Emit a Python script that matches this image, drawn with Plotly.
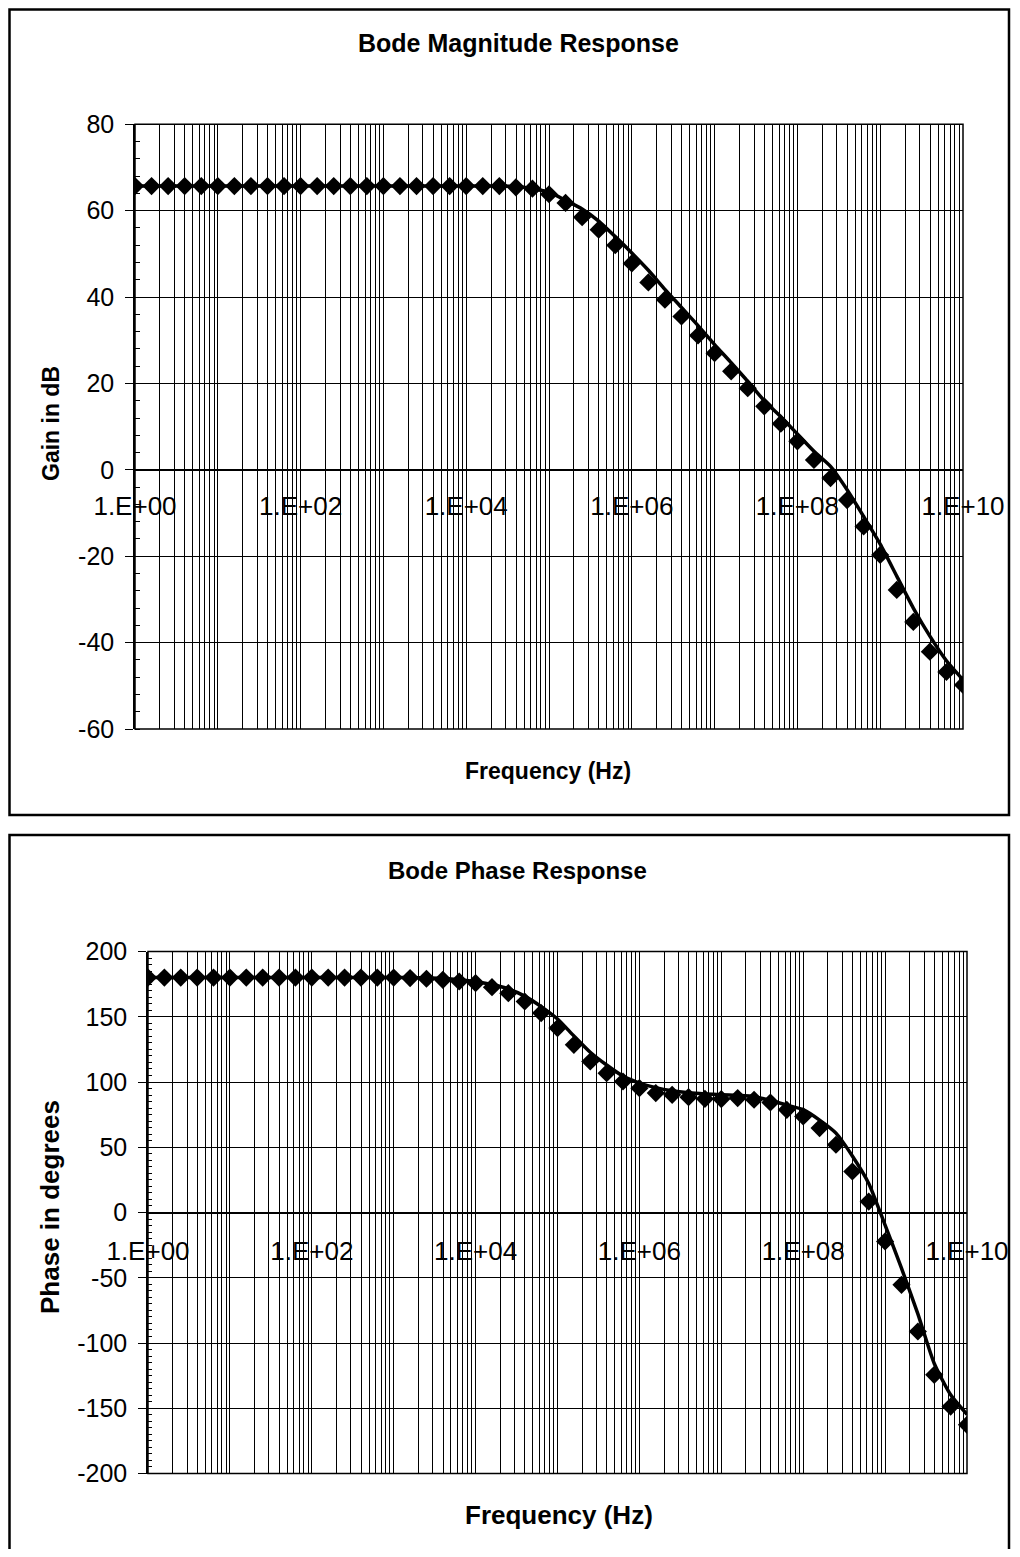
import plotly.graph_objects as go

# ---------------- data ----------------
freq_hz = [
    1.000e0, 1.585e0, 2.512e0, 3.981e0, 6.310e0,
    1.000e1, 1.585e1, 2.512e1, 3.981e1, 6.310e1,
    1.000e2, 1.585e2, 2.512e2, 3.981e2, 6.310e2,
    1.000e3, 1.585e3, 2.512e3, 3.981e3, 6.310e3,
    1.000e4, 1.585e4, 2.512e4, 3.981e4, 6.310e4,
    1.000e5, 1.585e5, 2.512e5, 3.981e5, 6.310e5,
    1.000e6, 1.585e6, 2.512e6, 3.981e6, 6.310e6,
    1.000e7, 1.585e7, 2.512e7, 3.981e7, 6.310e7,
    1.000e8, 1.585e8, 2.512e8, 3.981e8, 6.310e8,
    1.000e9, 1.585e9, 2.512e9, 3.981e9, 6.310e9,
    1.000e10,
]

gain_points_db = [
    65.7, 65.7, 65.7, 65.7, 65.7,
    65.7, 65.7, 65.7, 65.7, 65.7,
    65.7, 65.7, 65.7, 65.7, 65.7,
    65.7, 65.7, 65.7, 65.7, 65.7,
    65.7, 65.7, 65.7, 65.4, 65.1,
    63.8, 61.8, 58.5, 55.6, 52.0,
    47.8, 43.4, 39.4, 35.5, 31.1,
    27.0, 22.8, 18.9, 14.7, 10.7,
    6.6, 2.3, -1.9, -7.0, -13.1,
    -19.7, -27.8, -35.2, -42.1, -46.8,
    -49.8,
]

gain_curve_db = [
    65.7, 65.7, 65.7, 65.7, 65.7,
    65.7, 65.7, 65.7, 65.7, 65.7,
    65.7, 65.7, 65.7, 65.7, 65.7,
    65.7, 65.7, 65.7, 65.7, 65.7,
    65.7, 65.7, 65.7, 65.6, 65.1,
    64.3, 62.4, 60.4, 57.6, 54.0,
    50.2, 46.2, 41.8, 37.6, 33.4,
    29.0, 24.8, 20.5, 16.0, 12.3,
    8.3, 4.3, 0.8, -4.6, -10.8,
    -17.2, -24.6, -32.0, -38.5, -44.2,
    -48.6,
]

phase_points_deg = [
    180.0, 180.0, 180.0, 180.0, 180.0,
    180.0, 180.0, 180.0, 180.0, 180.0,
    180.0, 180.0, 180.0, 180.0, 180.0,
    180.0, 179.6, 179.1, 178.3, 177.0,
    175.8, 172.7, 168.1, 161.7, 152.8,
    141.3, 128.5, 115.7, 106.8, 100.4,
    95.3, 91.5, 90.2, 88.4, 87.1,
    86.9, 87.7, 86.4, 84.3, 78.7,
    73.6, 64.7, 51.9, 31.4, 8.4,
    -22.2, -55.4, -91.2, -124.4, -148.7,
    -162.7,
]

phase_curve_deg = [
    180.0, 180.0, 180.0, 180.0, 180.0,
    180.0, 180.0, 180.0, 180.0, 180.0,
    180.0, 180.0, 180.0, 180.0, 180.0,
    180.0, 180.0, 179.8, 179.5, 178.3,
    176.8, 174.7, 171.3, 165.8, 157.8,
    148.3, 135.3, 122.8, 113.0, 104.5,
    99.2, 95.7, 93.3, 91.8, 90.9,
    90.3, 89.7, 88.8, 85.8, 82.3,
    78.8, 70.8, 60.8, 43.3, 22.3,
    -9.7, -42.7, -77.7, -115.7, -139.7,
    -154.7,
]

x_tick_vals = [1e0, 1e2, 1e4, 1e6, 1e8, 1e10]
x_tick_text = ["1.E+00", "1.E+02", "1.E+04", "1.E+06", "1.E+08", "1.E+10"]
gain_ticks = [-60, -40, -20, 0, 20, 40, 60, 80]
gain_tick_text = ["-60", "-40", "-20", "0", "20", "40", "60", "80"]
phase_ticks = [-200, -150, -100, -50, 0, 50, 100, 150, 200]
phase_tick_text = ["-200", "-150", "-100", "-50", "0", "50", "100", "150", "200"]

# ---------------- figure ----------------
# the page body has an 8px margin, so the figure is drawn smaller and
# every reference pixel position is shifted by that offset.
OFF = 8
W, H = 1020 - OFF, 1557 - 2 * OFF
FONT = "Arial, Liberation Sans, sans-serif"


def px_x(p):
    return (p - OFF) / W


def px_y(p):
    return 1 - (p - OFF) / H


fig = go.Figure()

# magnitude
fig.add_trace(go.Scatter(x=freq_hz, y=gain_curve_db, mode="lines",
                         line=dict(color="black", width=3.5, shape="spline", smoothing=0.6),
                         xaxis="x", yaxis="y", hoverinfo="skip"))
fig.add_trace(go.Scatter(x=freq_hz, y=gain_points_db, mode="markers",
                         marker=dict(symbol="diamond", size=14, color="black"),
                         xaxis="x", yaxis="y"))
# phase
fig.add_trace(go.Scatter(x=freq_hz, y=phase_curve_deg, mode="lines",
                         line=dict(color="black", width=3.5, shape="spline", smoothing=0.6),
                         xaxis="x2", yaxis="y2", hoverinfo="skip"))
fig.add_trace(go.Scatter(x=freq_hz, y=phase_points_deg, mode="markers",
                         marker=dict(symbol="diamond", size=14, color="black"),
                         xaxis="x2", yaxis="y2"))

xcommon = dict(
    type="log", range=[0, 10], tickmode="array", tickvals=x_tick_vals, ticktext=x_tick_text,
    showgrid=True, gridcolor="black", gridwidth=1,
    minor=dict(dtick="D1", showgrid=True, gridcolor="black", gridwidth=1),
    showline=True, linecolor="black", linewidth=1,
    ticks="", tickfont=dict(family=FONT, size=26, color="black"),
    zeroline=False, anchor="free", automargin=False,
)
ycommon = dict(
    tickmode="array", showgrid=True, gridcolor="black", gridwidth=1,
    zeroline=True, zerolinecolor="black", zerolinewidth=1,
    showline=True, linecolor="black", linewidth=1.5,
    ticks="outside", ticklen=8, tickcolor="black", tickwidth=1,
    tickfont=dict(family=FONT, size=25, color="black"),
    ticklabelstandoff=6, automargin=False,
)

fig.update_layout(
    width=W, height=H, margin=dict(l=0, r=0, t=0, b=0, pad=0, autoexpand=False),
    paper_bgcolor="white", plot_bgcolor="white", showlegend=False,
    xaxis=dict(xcommon, domain=[px_x(135), px_x(963)], position=px_y(470),
               ticklabelstandoff=13),
    yaxis=dict(ycommon, domain=[px_y(729), px_y(124.3)], range=[-60, 80],
               tickvals=gain_ticks, ticktext=gain_tick_text, anchor="x",
               minor=dict(dtick=4, ticks="inside", ticklen=5, tickcolor="black", showgrid=False)),
    xaxis2=dict(xcommon, domain=[px_x(148), px_x(967)], position=px_y(1212.5),
                ticklabelstandoff=15),
    yaxis2=dict(ycommon, domain=[px_y(1473.5), px_y(951.5)], range=[-200, 200],
                tickvals=phase_ticks, ticktext=phase_tick_text, anchor="x2",
                minor=dict(dtick=5, ticks="inside", ticklen=4, tickcolor="black", showgrid=False)),
)

shapes = [
    # plot-area borders
    dict(type="rect", xref="x domain", yref="y domain", x0=0, x1=1, y0=0, y1=1,
         line=dict(color="black", width=1.5)),
    dict(type="rect", xref="x2 domain", yref="y2 domain", x0=0, x1=1, y0=0, y1=1,
         line=dict(color="black", width=1.5)),
    # outer chart boxes
    dict(type="rect", xref="paper", yref="paper", x0=px_x(9.5), x1=px_x(1009),
         y0=px_y(815), y1=px_y(9.5), line=dict(color="black", width=2.5)),
    dict(type="rect", xref="paper", yref="paper", x0=px_x(9.5), x1=px_x(1009),
         y0=px_y(1575), y1=px_y(835), line=dict(color="black", width=2.5)),
]
fig.update_layout(shapes=shapes)

ann = [
    ("<b>Bode Magnitude Response</b>", 518, 43, 25, 0),
    ("<b>Frequency (Hz)</b>", 548, 771, 23, 0),
    ("<b>Gain in dB</b>", 51, 424, 23, -90),
    ("<b>Bode Phase Response</b>", 517, 870, 24, 0),
    ("<b>Frequency (Hz)</b>", 559, 1515, 26, 0),
    ("<b>Phase in degrees</b>", 50, 1207, 26, -90),
]
for text, x, y, size, ang in ann:
    fig.add_annotation(text=text, xref="paper", yref="paper", x=px_x(x), y=px_y(y),
                       xanchor="center", yanchor="middle", showarrow=False, textangle=ang,
                       font=dict(family=FONT, size=size, color="black"))

fig.write_html("out.html")
